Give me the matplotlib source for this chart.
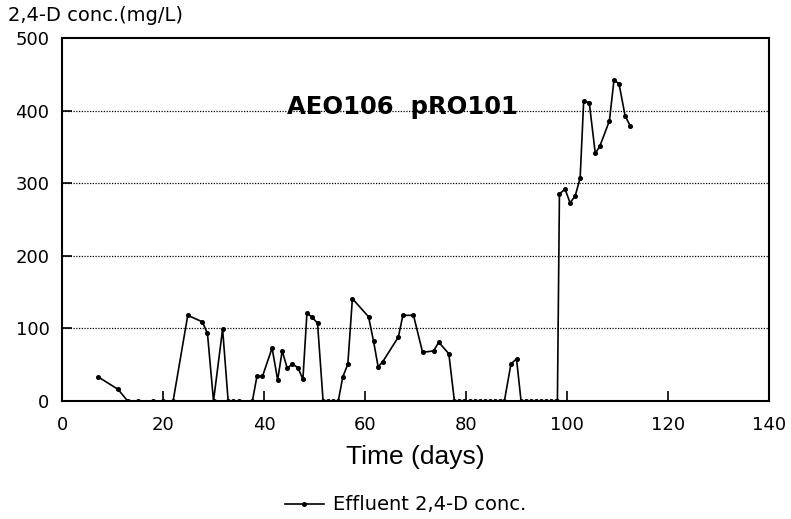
import numpy as np
import matplotlib
matplotlib.use("Agg")
import matplotlib.pyplot as plt

plt.rcParams["font.family"] = ["DejaVu Sans"]

# Effluent 2,4-D concentration (mg/L) vs. time (days)
days = [
    7.2, 11.1, 13.0, 15.1, 18.1, 20.0, 22.0, 24.9, 27.8, 28.8, 30.0, 31.8,
    32.9, 33.9, 35.0, 37.7, 38.6, 39.7, 41.6, 42.7, 43.6, 44.6, 45.6, 46.7,
    47.7, 48.5, 49.6, 50.6, 51.7, 52.7, 53.7, 54.7, 55.6, 56.6, 57.5, 60.7,
    61.7, 62.6, 63.5, 66.6, 67.5, 69.6, 71.4, 73.6, 74.6, 76.6, 77.7, 78.7,
    79.7, 80.7, 81.7, 82.7, 83.7, 84.7, 85.7, 86.7, 87.6, 88.9, 90.0, 90.9,
    91.9, 92.9, 93.9, 94.9, 95.9, 96.9, 97.9, 98.1, 98.5, 99.6, 100.6, 101.6,
    102.6, 103.3, 104.4, 105.6, 106.5, 108.4, 109.3, 110.3, 111.5, 112.5,
]
conc = [
    33, 16, 0, 0, 0, 0, 0, 118, 109, 93, 0, 99,
    0, 0, 0, 0, 34, 34, 73, 29, 69, 45, 51, 46,
    30, 121, 115, 107, 0, 0, 0, 0, 33, 51, 141, 116,
    82, 47, 54, 88, 118, 118, 67, 69, 81, 65, 0, 0,
    0, 0, 0, 0, 0, 0, 0, 0, 0, 51, 58, 0,
    0, 0, 0, 0, 0, 0, 0, 0, 285, 292, 273, 282,
    307, 413, 411, 341, 351, 386, 442, 437, 393, 379,
]

x_ticks = [0, 20, 40, 60, 80, 100, 120, 140]
y_ticks = [0, 100, 200, 300, 400, 500]

fig = plt.figure(figsize=(7.91, 5.19), dpi=100)
ax = fig.add_axes([0.0784, 0.2274, 0.8938, 0.6994])

ax.plot(days, conc, color="black", lw=1.2, marker="o", ms=2.6,
        label="Effluent 2,4-D conc.")

ax.set_xlim(0, 140)
ax.set_ylim(0, 500)
ax.set_xticks(x_ticks)
ax.set_yticks(y_ticks)
ax.tick_params(direction="in", length=7, width=1.2, labelsize=13,
               colors="black", pad=9)
ax.tick_params(axis="x", pad=11)

# dotted horizontal guides
for v in y_ticks[1:-1]:
    ax.axhline(v, color="black", lw=0.9, ls=(0, (1, 1.2)), zorder=0)

for s in ax.spines.values():
    s.set_linewidth(1.5)
    s.set_color("black")

ax.set_xlabel("Time (days)", fontsize=19, labelpad=8,
              family=["Liberation Sans", "DejaVu Sans"])
fig.text(0.010, 0.952, "2,4-D conc.(mg/L)", fontsize=14, ha="left", va="bottom")
ax.text(0.481, 0.81, "AEO106  pRO101", transform=ax.transAxes, fontsize=17.5,
        fontweight="bold", ha="center", va="center")

fig.legend(loc="center", bbox_to_anchor=(0.513, 0.027), frameon=False,
           fontsize=14, handlelength=2.0, handletextpad=0.5)

fig.savefig("out.png", dpi=100, facecolor="white")
